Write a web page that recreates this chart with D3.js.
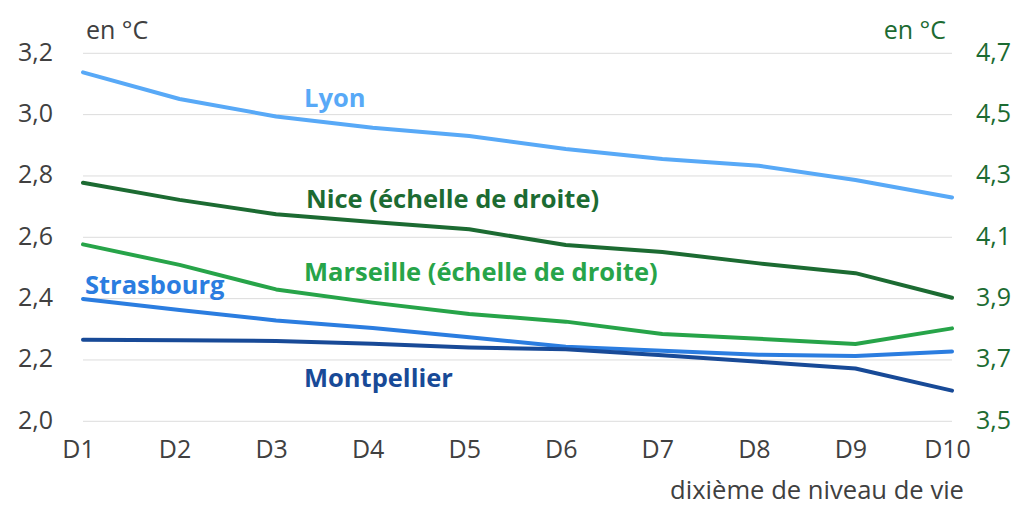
<!DOCTYPE html>
<html>
<head>
<script src="https://d3js.org/d3.v7.min.js"></script>
<style>
  body { margin: 0; background: #fff; }
  svg, svg text { font-family: "Open Sans", "Noto Sans", sans-serif; }
</style>
</head>
<body>
<svg class="chart" width="1025" height="520"></svg>
<script>
const categories = ["D1", "D2", "D3", "D4", "D5", "D6", "D7", "D8", "D9", "D10"];
const leftTicks = [2.0, 2.2, 2.4, 2.6, 2.8, 3.0, 3.2];
const rightTicks = [3.5, 3.7, 3.9, 4.1, 4.3, 4.5, 4.7];

// left scale
const lyon = [3.138, 3.051, 2.994, 2.957, 2.930, 2.888, 2.855, 2.833, 2.787, 2.730];
const strasbourg = [2.399, 2.363, 2.329, 2.304, 2.274, 2.243, 2.230, 2.217, 2.213, 2.228];
const montpellier = [2.266, 2.264, 2.262, 2.253, 2.241, 2.235, 2.215, 2.194, 2.172, 2.100];
// right scale
const nice = [4.278, 4.222, 4.175, 4.150, 4.126, 4.075, 4.052, 4.015, 3.983, 3.903];
const marseille = [4.077, 4.010, 3.930, 3.887, 3.850, 3.825, 3.785, 3.769, 3.752, 3.803];

const series = [
  { name: "Lyon", values: lyon, axis: "left", color: "#58a9f7", label: [304, 107] },
  { name: "Nice (échelle de droite)", values: nice, axis: "right", color: "#1c6b32", label: [306, 208] },
  { name: "Marseille (échelle de droite)", values: marseille, axis: "right", color: "#27a449", label: [304, 281] },
  { name: "Strasbourg", values: strasbourg, axis: "left", color: "#2b7de0", label: [85, 294] },
  { name: "Montpellier", values: montpellier, axis: "left", color: "#184a97", label: [304, 387] }
];

const svg = d3.select(".chart");
const margin = { left: 83, right: 73, top: 53.3, bottom: 98.7 };
const W = 1025, H = 520;
const FS = 25;

const x = d3.scalePoint().domain(categories).range([margin.left, W - margin.right]);
const yL = d3.scaleLinear().domain([2.0, 3.2]).range([H - margin.bottom, margin.top]);
const yR = d3.scaleLinear().domain([3.5, 4.7]).range([H - margin.bottom, margin.top]);
const fmt = d => d3.format(".1f")(d).replace(".", ",");

// gridlines
svg.append("g").selectAll("line").data(leftTicks).join("line")
  .attr("x1", margin.left).attr("x2", W - margin.right)
  .attr("y1", d => yL(d)).attr("y2", d => yL(d))
  .attr("stroke", "#dcdcdc").attr("stroke-width", 1);

// left axis
const gl = svg.append("g").attr("transform", `translate(${margin.left - 27},0)`)
  .call(d3.axisLeft(yL).tickValues(leftTicks).tickFormat(fmt).tickSize(0));
gl.attr("font-family", null).attr("font-size", FS);
gl.select(".domain").remove();
gl.selectAll("text").attr("fill", "#404040").attr("dy", "0.28em");

// right axis
const gr = svg.append("g").attr("transform", `translate(${W - margin.right + 21},0)`)
  .call(d3.axisRight(yR).tickValues(rightTicks).tickFormat(fmt).tickSize(0));
gr.attr("font-family", null).attr("font-size", FS);
gr.select(".domain").remove();
gr.selectAll("text").attr("fill", "#1c6b32").attr("dy", "0.28em");

// x axis
const gx = svg.append("g").attr("transform", `translate(-5,${H - margin.bottom + 14})`)
  .call(d3.axisBottom(x).tickSize(0));
gx.attr("font-family", null).attr("font-size", FS);
gx.select(".domain").remove();
gx.selectAll("text").attr("fill", "#404040").attr("dy", "0.8em");

svg.append("text").attr("x", 86).attr("y", 39).attr("font-size", FS).attr("fill", "#404040").text("en °C");
svg.append("text").attr("x", 946).attr("y", 39).attr("font-size", FS).attr("fill", "#1c6b32")
  .attr("text-anchor", "end").text("en °C");
svg.append("text").attr("x", 964).attr("y", 499).attr("font-size", 25.6).attr("fill", "#404040")
  .attr("text-anchor", "end").text("dixième de niveau de vie");

// lines
series.forEach(s => {
  const y = s.axis === "left" ? yL : yR;
  const line = d3.line().x((d, i) => x(categories[i])).y(d => y(d));
  svg.append("path").datum(s.values)
    .attr("d", line).attr("fill", "none")
    .attr("stroke", s.color).attr("stroke-width", 4)
    .attr("stroke-linejoin", "round").attr("stroke-linecap", "round");
  svg.append("text").attr("x", s.label[0]).attr("y", s.label[1])
    .attr("font-size", 25.5).attr("font-weight", "bold").attr("fill", s.color).text(s.name);
});
</script>
</body>
</html>
